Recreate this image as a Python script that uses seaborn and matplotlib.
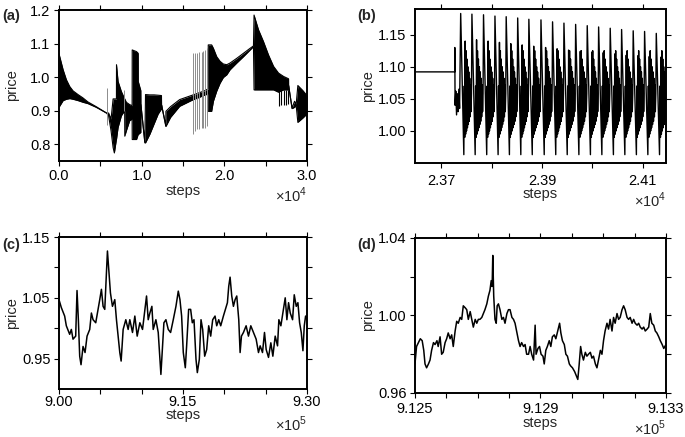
"""
Price vs steps: four panels (a)-(d), values read off the reference figure
"""
import numpy as np
import matplotlib
matplotlib.use('Agg')
import matplotlib.pyplot as plt
import seaborn as sns

# ---------------- panel (a): envelope of the fast oscillation ----------------
a_steps = [0, 500, 900, 1300, 1700, 2300, 2900, 3500, 4500, 5750,
           6000, 6300, 6550, 6700, 6950, 6960, 7150, 7550, 7950, 7960,
           8150, 8550, 8850, 8860, 9380, 9580, 9590, 9900, 9910, 10390,
           10470, 11000, 11500, 12000, 12400, 12410, 12930, 12940, 13500, 14600,
           16000, 17500, 18050, 18060, 18470, 18680, 19080, 19490, 19890, 20300,
           20700, 21510, 22320, 23130, 23530, 23600, 24140, 24740, 25350, 25960,
           26560, 27170, 27775, 27780, 28200, 28500, 28700, 28900, 29500, 30000]
a_upper = [1.070, 1.022, 0.992, 0.972, 0.959, 0.948, 0.938, 0.926, 0.912, 0.893,
           0.893, 0.875, 0.935, 0.935, 0.935, 1.037, 0.987, 0.957, 0.935, 0.935,
           0.925, 0.918, 0.915, 1.081, 1.076, 1.071, 0.987, 0.960, 0.918, 0.806,
           0.948, 0.947, 0.947, 0.946, 0.945, 0.918, 0.855, 0.898, 0.912, 0.933,
           0.945, 0.958, 0.965, 1.096, 1.096, 1.086, 1.061, 1.047, 1.039, 1.037,
           1.042, 1.056, 1.071, 1.086, 1.093, 1.185, 1.141, 1.106, 1.066, 1.032,
           1.012, 1.002, 0.995, 0.975, 0.908, 0.928, 0.920, 0.975, 0.960, 0.945]
a_lower = [0.910, 0.930, 0.934, 0.936, 0.934, 0.930, 0.925, 0.921, 0.910, 0.893,
           0.885, 0.840, 0.790, 0.774, 0.815, 0.815, 0.850, 0.885, 0.900, 0.824,
           0.840, 0.870, 0.875, 0.814, 0.814, 0.829, 0.829, 0.835, 0.918, 0.804,
           0.804, 0.830, 0.860, 0.890, 0.905, 0.916, 0.853, 0.853, 0.880, 0.913,
           0.930, 0.945, 0.950, 0.898, 0.898, 0.928, 0.958, 0.982, 0.999, 1.007,
           1.022, 1.042, 1.061, 1.081, 1.091, 0.962, 0.962, 0.962, 0.962, 0.962,
           0.955, 0.962, 0.962, 0.975, 0.906, 0.910, 0.915, 0.865, 0.878, 0.890]
# isolated grey spikes
a_spike_steps = [5860, 7880, 16170, 16455, 16740, 16980, 17260, 17470, 17710, 17950]
a_spike_low = [0.858, 0.900, 0.829, 0.839, 0.844, 0.844, 0.847, 0.849, 0.849, 0.854]
a_spike_high = [0.967, 0.962, 1.071, 1.071, 1.073, 1.076, 1.076, 1.078, 1.081, 1.086]
# black dips after the big jump
a_dip_steps = [26600, 26900, 27200, 27450, 27650]
a_dip_low = [0.915, 0.918, 0.916, 0.918, 0.920]
a_dip_high = [0.962, 0.962, 0.962, 0.962, 0.962]

# ---------------- panel (b) ----------------
b_flat_steps = [23648, 23727]
b_flat_price = [1.092, 1.092]
b_start_steps = [23727, 23727.6, 23729, 23730.5, 23732, 23733.5, 23735, 23736.5]
b_start_price = [1.130, 1.040, 1.062, 1.025, 1.058, 1.030, 1.065, 1.035]
b_spike_steps = [23738.7, 23761.0, 23784.0, 23806.7, 23829.0, 23851.8, 23874.0, 23898.0, 23921.0,
                 23943.6, 23966.8, 23989.8, 24012.4, 24035.4, 24058.0, 24081.0, 24103.6, 24126.8]
b_tops = [1.183, 1.182, 1.181, 1.179, 1.178, 1.176, 1.174, 1.173, 1.170,
          1.168, 1.166, 1.164, 1.162, 1.160, 1.158, 1.156, 1.155, 1.152]
b_second = [1.140, 1.142, 1.140, 1.138, 1.136, 1.134, 1.132, 1.130, 1.128,
            1.126, 1.124, 1.123, 1.122, 1.120, 1.118, 1.117, 1.116, 1.115]
# within one cycle: fraction of the cycle, price (None -> second peak of that cycle)
b_inner_frac = [0.28, 0.32, 0.36, 0.40, 0.44, 0.48, 0.52, 0.56, 0.60, 0.64,
                0.68, 0.72, 0.76, 0.80, 0.84, 0.88, 0.92, 0.96]
b_inner_price = [0.963, 1.070, 0.990, None, 0.995, 1.125, 1.000, 1.112, 1.005, 1.100,
                 1.010, 1.092, 1.015, 1.082, 1.022, 1.072, 1.030, 1.058]
b_last_period = 23.0

# ---------------- panel (c) ----------------
c_base = 900000
c_step_offset = [0, 283, 687, 889, 1294, 1496, 1698, 2022, 2183, 2345,
                 2507, 2668, 2911, 3154, 3396, 3720, 3922, 4124, 4447, 4730,
                 4933, 5135, 5337, 5539, 5741, 5863, 6024, 6226, 6469, 6752,
                 6954, 7156, 7358, 7520, 7763, 8086, 8369, 8571, 8895, 9178,
                 9461, 9784, 10108, 10391, 10593, 10795, 10997, 11240, 11401, 11725,
                 12008, 12210, 12331, 12533, 12695, 12938, 13221, 13504, 13827, 14151,
                 14434, 14636, 14838, 15040, 15283, 15444, 15687, 15929, 16132, 16334,
                 16576, 16738, 16981, 17183, 17385, 17627, 17870, 18113, 18355, 18598,
                 18881, 19083, 19326, 19568, 19892, 20134, 20377, 20538, 20700, 20902,
                 21104, 21307, 21509, 21751, 21913, 22075, 22317, 22641, 22924, 23207,
                 23530, 23854, 24137, 24339, 24622, 24864, 25067, 25350, 25632, 25875,
                 26158, 26441, 26603, 26846, 27088, 27371, 27573, 27775, 27978, 28261,
                 28463, 28705, 28907, 29110, 29312, 29514, 29676, 29837, 30000]
c_price = [1.047, 1.034, 1.020, 1.004, 0.990, 0.998, 0.982, 0.987, 1.062, 1.014,
           0.954, 0.940, 0.970, 0.960, 0.987, 0.998, 1.025, 1.014, 1.009, 1.031,
           1.047, 1.064, 1.036, 1.031, 1.091, 1.127, 1.096, 1.058, 1.036, 1.047,
           1.014, 0.987, 0.960, 0.946, 0.998, 1.014, 0.998, 1.014, 0.993, 1.020,
           0.987, 1.009, 0.998, 1.031, 1.053, 1.014, 1.025, 1.036, 0.998, 1.014,
           0.993, 0.949, 0.924, 0.971, 1.009, 1.014, 0.998, 0.993, 1.014, 1.036,
           1.061, 1.047, 1.020, 0.960, 0.935, 0.971, 1.031, 1.031, 1.009, 1.014,
           0.949, 0.927, 0.949, 1.014, 0.998, 0.954, 0.965, 1.004, 0.987, 1.014,
           1.020, 1.004, 1.014, 1.004, 1.020, 1.031, 1.042, 1.069, 1.084, 1.053,
           1.036, 1.047, 1.053, 1.014, 0.960, 0.987, 0.993, 1.004, 0.987, 1.004,
           0.993, 0.982, 0.960, 0.971, 0.960, 0.993, 0.965, 0.952, 0.976, 0.954,
           0.987, 0.971, 1.014, 1.004, 1.025, 1.050, 1.014, 1.042, 1.025, 1.014,
           1.055, 1.036, 1.042, 1.009, 0.993, 0.963, 1.004, 1.020, 1.014]

# ---------------- panel (d) ----------------
d_base = 912500
d_step_offset = [0, 5, 11, 17, 23, 28, 32, 37, 43, 48,
                 53, 59, 64, 70, 74, 80, 85, 90, 96, 101,
                 106, 112, 117, 122, 128, 133, 138, 144, 149, 154,
                 160, 165, 170, 176, 181, 186, 192, 197, 202, 207,
                 213, 218, 223, 229, 234, 239, 243, 246, 248, 251,
                 255, 259, 262, 266, 271, 277, 282, 287, 293, 298,
                 303, 309, 314, 319, 325, 330, 335, 340, 346, 351,
                 356, 362, 367, 372, 378, 383, 386, 392, 397, 402,
                 408, 412, 417, 422, 428, 433, 438, 444, 449, 455,
                 461, 465, 470, 476, 481, 486, 492, 496, 502, 509,
                 514, 519, 523, 528, 532, 537, 543, 548, 553, 559,
                 564, 569, 575, 580, 585, 591, 596, 601, 606, 612,
                 617, 622, 628, 633, 638, 644, 649, 654, 660, 665,
                 670, 676, 681, 686, 692, 697, 702, 708, 713, 718,
                 724, 729, 734, 740, 745, 750, 755, 761, 766, 771,
                 777, 782, 788, 793, 800]
d_price = [0.975, 0.984, 0.986, 0.988, 0.987, 0.982, 0.975, 0.973, 0.975, 0.977,
           0.982, 0.986, 0.985, 0.987, 0.984, 0.989, 0.980, 0.981, 0.986, 0.988,
           0.991, 0.988, 0.990, 0.984, 0.992, 0.997, 0.996, 0.999, 0.998, 1.005,
           1.004, 1.003, 0.998, 1.002, 0.998, 0.994, 0.998, 0.996, 0.998, 0.998,
           0.999, 1.001, 1.003, 1.006, 1.010, 1.013, 1.018, 1.015, 1.031, 1.010,
           0.998, 0.996, 1.005, 1.006, 1.003, 0.998, 0.999, 0.996, 1.001, 1.003,
           1.003, 0.999, 0.998, 0.996, 0.991, 0.987, 0.984, 0.986, 0.984, 0.985,
           0.980, 0.980, 0.984, 0.980, 0.977, 0.995, 0.980, 0.983, 0.984, 0.980,
           0.979, 0.975, 0.982, 0.984, 0.987, 0.984, 0.989, 0.990, 0.988, 0.992,
           0.996, 0.991, 0.987, 0.985, 0.980, 0.979, 0.975, 0.974, 0.973, 0.971,
           0.969, 0.967, 0.974, 0.984, 0.980, 0.977, 0.981, 0.979, 0.980, 0.981,
           0.978, 0.979, 0.975, 0.973, 0.977, 0.982, 0.980, 0.987, 0.992, 0.996,
           0.993, 0.998, 0.992, 0.999, 0.996, 1.001, 0.998, 0.999, 1.003, 1.005,
           1.003, 0.999, 0.998, 0.999, 0.996, 0.998, 0.996, 0.995, 0.996, 0.994,
           0.993, 0.994, 0.992, 0.993, 0.994, 1.001, 0.996, 0.995, 0.992, 0.991,
           0.989, 0.987, 0.985, 0.983, 0.985]

# ---------------- ticks ----------------
a_xticks = [0, 5000, 10000, 15000, 20000, 25000, 30000]
a_xticklabels = ['0.0', '', '1.0', '', '2.0', '', '3.0']
a_yticks = [0.8, 0.9, 1.0, 1.1, 1.2]
a_yticklabels = ['0.8', '0.9', '1.0', '1.1', '1.2']
b_xticks = [23700, 23800, 23900, 24000, 24100]
b_xticklabels = ['2.37', '', '2.39', '', '2.41']
b_yticks = [1.00, 1.05, 1.10, 1.15]
b_yticklabels = ['1.00', '1.05', '1.10', '1.15']
c_xticks = [900000, 905000, 910000, 915000, 920000, 925000, 930000]
c_xticklabels = ['9.00', '', '', '9.15', '', '', '9.30']
c_yticks = [0.95, 1.00, 1.05, 1.10, 1.15]
c_yticklabels = ['0.95', '', '1.05', '', '1.15']
d_xticks = [912500, 912600, 912700, 912800, 912900, 913000, 913100, 913200, 913300]
d_xticklabels = ['9.125', '', '', '', '9.129', '', '', '', '9.133']
d_yticks = [0.96, 0.98, 1.00, 1.02, 1.04]
d_yticklabels = ['0.96', '', '1.00', '', '1.04']

FS = 10.5
sns.set_theme(style='ticks')
plt.rcParams['font.family'] = ['Liberation Sans', 'DejaVu Sans']
plt.rcParams['mathtext.fontset'] = 'custom'
plt.rcParams['mathtext.rm'] = 'Liberation Sans'
plt.rcParams['font.size'] = FS


def style_axis(ax, xlim, ylim, xticks, xlabels, yticks, ylabels, xpad, xlab_y, mult, mult_y):
    ax.set_xlim(*xlim)
    ax.set_ylim(*ylim)
    ax.set_xticks(xticks)
    ax.set_xticklabels(xlabels)
    ax.set_yticks(yticks)
    ax.set_yticklabels(ylabels)
    ax.tick_params(direction='out', length=3.6, width=0.8, labelsize=FS,
                   colors='black', top=True, right=True)
    ax.tick_params(axis='x', pad=xpad)
    ax.tick_params(axis='y', pad=2.5)
    for sp in ax.spines.values():
        sp.set_visible(True)
        sp.set_linewidth(1.4)
        sp.set_color('black')
    ax.set_xlabel('steps', fontsize=FS)
    ax.set_ylabel('price', fontsize=FS)
    ax.xaxis.set_label_coords(0.5, xlab_y)
    ax.yaxis.set_label_coords(-0.16, 0.5)
    ax.text(1.0, mult_y, mult, transform=ax.transAxes, ha='right', va='center', fontsize=FS)
    ax.set_facecolor('white')


fig = plt.figure(figsize=(6.85, 4.37), dpi=100)
ax_a = fig.add_axes([0.0861, 0.6316, 0.362, 0.3455])
ax_b = fig.add_axes([0.6058, 0.6270, 0.3664, 0.3524])
ax_c = fig.add_axes([0.0861, 0.1098, 0.362, 0.3478])
ax_d = fig.add_axes([0.6058, 0.1007, 0.3664, 0.3547])

# (a)
ax_a.fill_between(a_steps, a_lower, a_upper, color='black', lw=0)
sns.lineplot(x=a_steps, y=a_upper, ax=ax_a, color='black', lw=0.8, sort=False, estimator=None)
sns.lineplot(x=a_steps, y=a_lower, ax=ax_a, color='black', lw=0.8, sort=False, estimator=None)
ax_a.vlines(a_spike_steps, a_spike_low, a_spike_high, color='#8c8c8c', lw=0.7)
ax_a.vlines(a_dip_steps, a_dip_low, a_dip_high, color='black', lw=0.8)
style_axis(ax_a, (0, 30000), (0.75, 1.2), a_xticks, a_xticklabels, a_yticks, a_yticklabels,
           2.4, -0.155, '×10$^4$', -0.23)

# (b)
b_x = list(b_flat_steps) + list(b_start_steps)
b_y = list(b_flat_price) + list(b_start_price)
for i, s in enumerate(b_spike_steps):
    period = b_spike_steps[i + 1] - s if i + 1 < len(b_spike_steps) else b_last_period
    b_x.append(s)
    b_y.append(b_tops[i])
    for f, v in zip(b_inner_frac, b_inner_price):
        b_x.append(s + f * period)
        b_y.append(b_second[i] if v is None else v)
sns.lineplot(x=b_x, y=b_y, ax=ax_b, color='black', lw=1.0, sort=False, estimator=None)
style_axis(ax_b, (23648, 24146), (0.95, 1.19), b_xticks, b_xticklabels, b_yticks, b_yticklabels,
           4.0, -0.158, '×10$^4$', -0.245)

# (c)
c_x = [c_base + o for o in c_step_offset]
sns.lineplot(x=c_x, y=c_price, ax=ax_c, color='black', lw=1.1, sort=False, estimator=None)
style_axis(ax_c, (900000, 930000), (0.90, 1.15), c_xticks, c_xticklabels, c_yticks, c_yticklabels,
           0.6, -0.128, '×10$^5$', -0.235)

# (d)
d_x = [d_base + o for o in d_step_offset]
sns.lineplot(x=d_x, y=d_price, ax=ax_d, color='black', lw=1.1, sort=False, estimator=None)
style_axis(ax_d, (912500, 913300), (0.96, 1.04), d_xticks, d_xticklabels, d_yticks, d_yticklabels,
           2.6, -0.15, '×10$^5$', -0.225)

# panel letters
for lab, (x, y) in zip(['(a)', '(b)', '(c)', '(d)'],
                       [(0.004, 0.963), (0.521, 0.963), (0.004, 0.44), (0.521, 0.44)]):
    fig.text(x, y, lab, fontsize=FS, fontweight='bold', va='center', ha='left')

fig.savefig('out.png', dpi=100)
